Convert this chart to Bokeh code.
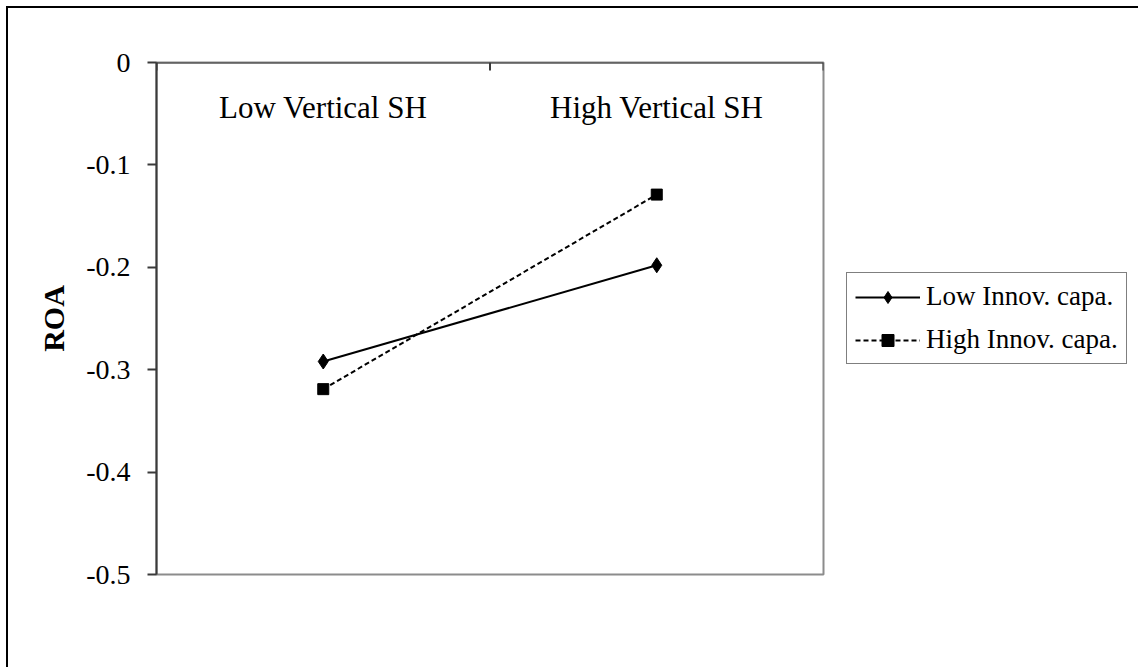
from bokeh.plotting import figure
from bokeh.models import Range1d, FixedTicker, Legend, LegendItem, Span
from bokeh.core.properties import value
from bokeh.embed import file_html
from bokeh.resources import INLINE

# Simple-slope data: ROA at low / high vertical SH for two innovation groups
categories = ["Low Vertical SH", "High Vertical SH"]
low_innov = [-0.292, -0.198]
high_innov = [-0.319, -0.129]
series_names = ["Low Innov. capa.", "High Innov. capa."]
y_ticks = [0, -0.1, -0.2, -0.3, -0.4, -0.5]
y_tick_labels = ["0", "-0.1", "-0.2", "-0.3", "-0.4", "-0.5"]

SERIF = "Liberation Serif"
AXIS_COLOR = "#3a3a3a"
Y_MIN, Y_MAX = -0.5, 0.0

# each category occupies one unit; points sit in the middle of their slot
n_cat = len(categories)
x_pos = [i + 0.5 for i in range(n_cat)]
slot_edges = list(range(n_cat + 1))

FRAME_W, FRAME_H = 667, 512
BORDER = 8  # outer chart-area border plus its offset from the page corner

p = figure(frame_width=FRAME_W, frame_height=FRAME_H,
           x_range=Range1d(0, n_cat), y_range=Range1d(Y_MIN, Y_MAX),
           x_axis_location=None,
           output_backend="svg", toolbar_location=None,
           min_border_left=156 - BORDER, min_border_top=62 - BORDER,
           min_border_right=315, min_border_bottom=93)
p.margin = (6, 0, 0, 6)
p.styles = {"border-left": "2px solid black", "border-top": "2px solid black"}
p.background_fill_color = "white"
p.border_fill_color = "white"
p.grid.visible = False
p.outline_line_color = "#8c8c8c"
p.outline_line_width = 2

# Category axis along y = 0: dark line plus short inward ticks between slots
p.add_layout(Span(location=0, dimension="width", line_color=AXIS_COLOR,
                  line_width=2))
tick_len = 8 * (Y_MAX - Y_MIN) / FRAME_H
p.segment(x0=slot_edges, y0=[0] * len(slot_edges),
          x1=slot_edges, y1=[-tick_len] * len(slot_edges),
          line_color=AXIS_COLOR, line_width=2)

# Value axis
yax = p.yaxis[0]
yax.ticker = FixedTicker(ticks=y_ticks)
yax.major_label_overrides = {t: s for t, s in zip(y_ticks, y_tick_labels)}
yax.major_tick_out = 9
yax.major_tick_in = 0
yax.minor_tick_line_color = None
yax.axis_line_color = AXIS_COLOR
yax.axis_line_width = 2
yax.major_tick_line_color = AXIS_COLOR
yax.major_tick_line_width = 2
yax.major_label_text_font = SERIF
yax.major_label_text_font_size = "28px"
yax.major_label_text_color = "black"
yax.major_label_standoff = 17
yax.axis_label = "ROA"
yax.axis_label_text_font = SERIF
yax.axis_label_text_font_size = "30px"
yax.axis_label_text_font_style = "bold"
yax.axis_label_text_color = "black"
yax.axis_label_standoff = 13

# Category labels sit just under the top axis line
label_y = -0.044
p.text(x=x_pos, y=[label_y] * n_cat, text=categories,
       text_font=value(SERIF), text_font_size="31px", text_color="black",
       text_align="center", text_baseline="alphabetic")

# Series
l1 = p.line(x_pos, low_innov, line_color="black", line_width=2)
m1 = p.scatter(x_pos, low_innov, marker="diamond", size=15,
               fill_color="black", line_color="black")
l2 = p.line(x_pos, high_innov, line_color="black", line_width=2,
            line_dash="5 3")
m2 = p.scatter(x_pos, high_innov, marker="square", size=11,
               fill_color="black", line_color="black")

legend = Legend(items=[LegendItem(label=series_names[0], renderers=[l1, m1]),
                       LegendItem(label=series_names[1], renderers=[l2, m2])],
                location="left", orientation="vertical",
                border_line_color="black", border_line_width=1,
                background_fill_color="white", background_fill_alpha=1,
                padding=8, spacing=12, margin=23,
                glyph_width=65, glyph_height=30, label_height=30,
                label_standoff=6,
                label_text_font=SERIF, label_text_font_size="27px",
                label_text_color="black")
p.add_layout(legend, "right")

open("out.html", "w").write(file_html(p, INLINE))
